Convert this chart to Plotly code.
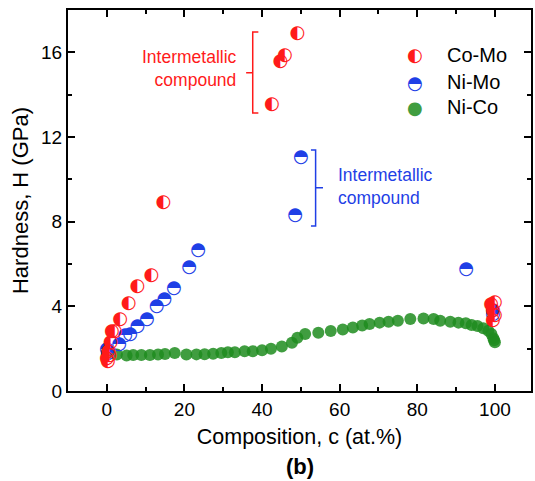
import plotly.graph_objects as go

# ---------------- data ----------------
como_x = [0, 0.25, 0.4, 0.7, 1.0, 1.3, 2.1, 3.4, 5.6, 7.9, 11.5, 14.6,
          42.5, 44.7, 45.9, 49.1, 99.0, 99.5, 100.0, 99.5, 100.0]
como_y = [1.54, 1.38, 1.86, 1.70, 2.30, 2.80, 2.80, 3.37, 4.12, 4.93, 5.48, 8.92,
          13.54, 15.56, 15.87, 16.90, 4.10, 3.80, 4.20, 3.35, 3.55]

nimo_x = [0, 0.3, 3.2, 4.7, 6.0, 7.9, 10.3, 12.8, 14.8, 17.3, 21.2, 23.5,
          48.5, 50.0, 92.6, 99.5, 99.5]
nimo_y = [1.94, 1.75, 2.20, 2.64, 2.69, 3.05, 3.37, 3.98, 4.30, 4.82, 5.83, 6.66,
          8.30, 11.04, 5.72, 3.60, 3.80]

nico_x = [0, 2.6, 5.1, 6.8, 8.9, 11.1, 13.2, 15.0, 17.5, 20.5, 23.1, 25.2, 27.4,
          29.5, 31.2, 33.0, 35.5, 37.6, 40.0, 42.3, 45.1, 47.7, 49.1, 51.1, 54.5,
          57.7, 60.8, 63.4, 65.8, 67.7, 70.3, 72.6, 75.0, 78.2, 81.6, 84.2, 85.9,
          88.5, 90.6, 92.5, 94.0, 95.5, 97.0, 98.3, 99.1, 99.6, 99.8, 100.0]
nico_y = [1.75, 1.72, 1.68, 1.70, 1.70, 1.70, 1.72, 1.75, 1.80, 1.72, 1.73, 1.74, 1.76,
          1.80, 1.83, 1.83, 1.88, 1.88, 1.92, 2.00, 2.10, 2.28, 2.52, 2.69, 2.75,
          2.83, 2.91, 3.00, 3.09, 3.16, 3.23, 3.27, 3.32, 3.40, 3.43, 3.40, 3.32,
          3.27, 3.23, 3.20, 3.12, 3.07, 2.96, 2.85, 2.69, 2.49, 2.40, 2.30]

series_names = ["Co-Mo", "Ni-Mo", "Ni-Co"]
x_ticks = [0, 20, 40, 60, 80, 100]
y_ticks = [0, 4, 8, 12, 16]

RED = "#ff1a1a"
BLUE = "#1f3fe6"
GREEN = "#1f8c1f"
FONT = "Liberation Sans, Arial, sans-serif"
GLYPH_FONT = "DejaVu Sans"
GLYPH_SIZE = 18

fig = go.Figure()

fig.add_trace(go.Scatter(
    x=nico_x, y=nico_y, mode="markers", name=series_names[2],
    marker=dict(symbol="circle", size=12, color=GREEN, opacity=0.85, line=dict(width=0)),
    showlegend=False))

fig.add_trace(go.Scatter(
    x=nimo_x, y=nimo_y, mode="text", name=series_names[1], text=["\u25D3"] * len(nimo_x),
    textposition="middle center",
    textfont=dict(family=GLYPH_FONT, size=GLYPH_SIZE, color=BLUE), showlegend=False))

fig.add_trace(go.Scatter(
    x=como_x, y=como_y, mode="text", name=series_names[0], text=["\u25D0"] * len(como_x),
    textposition="middle center",
    textfont=dict(family=GLYPH_FONT, size=GLYPH_SIZE, color=RED), showlegend=False))

# manual legend
leg_y = [0.882, 0.811, 0.745]
leg_glyph = ["\u25D0", "\u25D3", "\u25CF"]
leg_col = [RED, BLUE, GREEN]
leg_op = [1, 1, 0.85]
annotations = []
for i, name in enumerate(series_names):
    annotations.append(dict(x=0.75, y=leg_y[i], xref="paper", yref="paper",
                            text=leg_glyph[i], showarrow=False,
                            font=dict(family=GLYPH_FONT, size=GLYPH_SIZE, color=leg_col[i]),
                            xanchor="center", yanchor="middle", opacity=leg_op[i]))
    annotations.append(dict(x=0.815, y=leg_y[i], xref="paper", yref="paper",
                            text=name, showarrow=False,
                            font=dict(family=FONT, size=20, color="black"),
                            xanchor="left", yanchor="middle"))

annotations.append(dict(x=34.0, y=15.25, xref="x", yref="y",
                        text="Intermetallic<br>compound", showarrow=False, align="right",
                        font=dict(family=FONT, size=17.5, color=RED),
                        xanchor="right", yanchor="middle"))
annotations.append(dict(x=59.0, y=9.65, xref="x", yref="y",
                        text="Intermetallic<br>compound", showarrow=False, align="left",
                        font=dict(family=FONT, size=17.5, color=BLUE),
                        xanchor="left", yanchor="middle"))
annotations.append(dict(x=0.5, y=-0.197, xref="paper", yref="paper",
                        text="<b>(b)</b>", showarrow=False,
                        font=dict(family=FONT, size=22, color="black"),
                        xanchor="center", yanchor="middle"))

shapes = [
    dict(type="path", xref="x", yref="y",
         path="M 39.05 16.96 L 37.6 16.96 L 37.6 13.13 L 39.05 13.13 M 37.6 15.04 L 35.9 15.04",
         line=dict(color=RED, width=1.5)),
    dict(type="path", xref="x", yref="y",
         path="M 52.6 11.38 L 53.8 11.38 L 53.8 7.79 L 52.6 7.79 M 53.8 9.6 L 55.7 9.6",
         line=dict(color=BLUE, width=1.5)),
]

axis_common = dict(showline=True, linecolor="black", linewidth=2, mirror="ticks",
                   ticks="inside", ticklen=7, tickwidth=1.5, tickcolor="black",
                   showgrid=False, zeroline=False,
                   tickfont=dict(family=FONT, size=19, color="black"))

fig.update_xaxes(range=[-10, 109.3], tickvals=x_ticks,
                 minor=dict(ticks="inside", ticklen=4, tickwidth=1.5, dtick=10, tick0=0,
                            tickcolor="black", showgrid=False),
                 title=dict(text="Composition, c (at.%)", font=dict(family=FONT, size=21.5, color="black"),
                            standoff=10),
                 **axis_common)
fig.update_yaxes(range=[0, 18], tickvals=y_ticks,
                 minor=dict(ticks="inside", ticklen=4, tickwidth=1.5, dtick=2, tick0=0,
                            tickcolor="black", showgrid=False),
                 title=dict(text="Hardness, H (GPa)", font=dict(family=FONT, size=22, color="black"),
                            standoff=6),
                 **axis_common)

fig.update_layout(width=535, height=481, margin=dict(l=68, r=2, t=10, b=90),
                  plot_bgcolor="white", paper_bgcolor="white",
                  annotations=annotations, shapes=shapes, showlegend=False)

fig.write_html("out.html")
